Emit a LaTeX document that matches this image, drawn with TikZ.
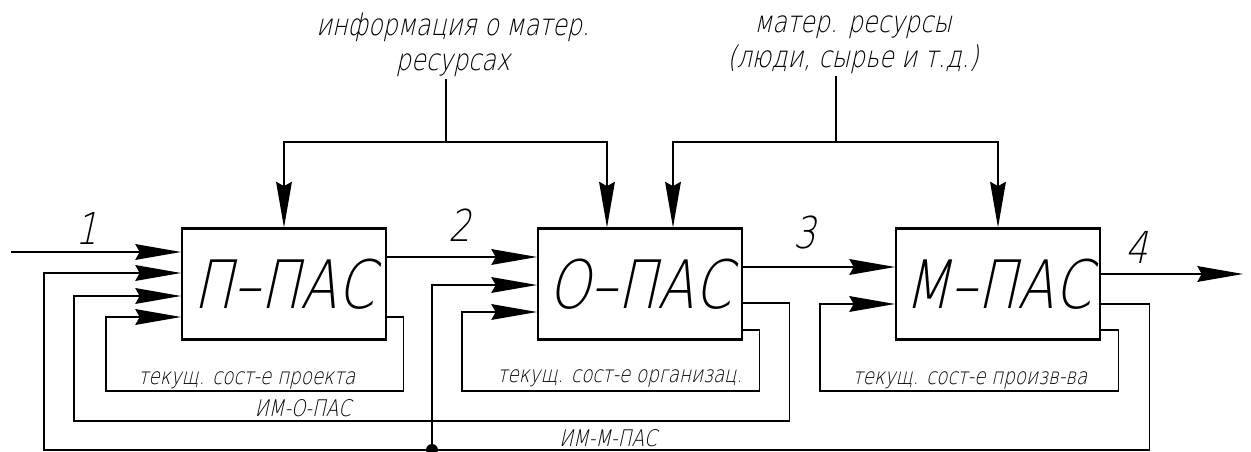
\documentclass[tikz,border=0pt]{standalone}
\usepackage{fontspec}
\newfontfamily\gost{DejaVu Sans ExtraLight}[FakeStretch=0.8,FakeSlant=0.22]
\usetikzlibrary{arrows.meta,calc,positioning}

\begin{document}
\begin{tikzpicture}[x=0.02cm,y=-0.02cm,>={Stealth[length=26pt,width=9pt,inset=2.5pt]},
  pas/.style={draw,line width=1.2pt,minimum width=4.08cm,minimum height=2.22cm,inner sep=0pt,font=\gost\fontsize{38}{40}\selectfont},
  arr/.style={->,line width=0.6pt},
  lnk/.style={line width=0.6pt},
  lbl/.style={font=\gost\fontsize{13}{15}\selectfont,inner sep=1pt},
  num/.style={font=\gost\fontsize{25}{27}\selectfont},
  toplbl/.style={align=center,font=\gost\fontsize{17}{20}\selectfont,inner sep=1pt}]
\useasboundingbox (0,0) rectangle (1251,452);
\node[pas] (ppas) at (284,284) {П–ПАС};
\node[pas] (opas) at (640,284) {О–ПАС};
\node[pas] (mpas) at (998,284) {М–ПАС};
\node[toplbl] (info) at (453,45) {информация о матер.\\ресурсах};
\node[toplbl] (res) at (853,45) {матер. ресурсы\\(люди, сырье и т.д.)};
% resource feeds
\coordinate (ij) at (446,142);
\coordinate (rj) at (836,142);
\draw[lnk] (ij |- info.south) -- (ij);
\draw[arr] (ij) -| (ppas.north);
\draw[arr] (ij) -| ($(opas.north)+(-33,0)$);
\draw[lnk] (rj |- res.south) -- (rj);
\draw[arr] (rj) -| ($(opas.north)+(33,0)$);
\draw[arr] (rj) -| (mpas.north);
% main flow
\coordinate (in1) at (11,252);
\coordinate (out4) at (1243,274);
\draw[arr] (in1) -- (in1 -| ppas.west);
\draw[arr] ($(ppas.east)+(0,-27)$) -- ($(opas.west)+(0,-27)$);
\draw[arr] ($(opas.east)+(0,-17)$) -- ($(mpas.west)+(0,-17)$);
\draw[arr] ($(mpas.east)+(0,-10)$) -- (out4);
% feedback loops
\draw[arr] ($(ppas.east)+(0,33)$) -- ++(16,0) |- (106,391) |- ($(ppas.west)+(0,33)$);
\draw[arr] ($(opas.east)+(0,46)$) -- ++(16,0) |- (462,391) |- ($(opas.west)+(0,28)$);
\draw[arr] ($(mpas.east)+(0,46)$) -- ++(17,0) |- (820,391) |- ($(mpas.west)+(0,20)$);
\draw[arr] ($(opas.east)+(0,19)$) -- ++(46,0) |- (74,421) |- ($(ppas.west)+(0,12)$);
\draw[arr] ($(mpas.east)+(0,20)$) -- ++(48,0) |- (44,450) |- ($(ppas.west)+(0,-11)$);
\coordinate (dot) at (432,450);
\fill (dot) circle[radius=3.4pt];
\draw[arr] (dot) |- ($(opas.west)+(0,1)$);
% labels
\node[lbl] (tp) at (247,380) {текущ. сост-е проекта};
\node[lbl] (to) at (620,378) {текущ. сост-е организац.};
\node[lbl] (tm) at (970,380) {текущ. сост-е произв-ва};
\node[lbl] (imo) at (303,408) {ИМ-О-ПАС};
\node[lbl] (imm) at (608,438) {ИМ-М-ПАС};
\node[num] (n1) at (87,228) {1};
\node[num] (n2) at (460,225) {2};
\node[num] (n3) at (805,233) {3};
\node[num] (n4) at (1137,247) {4};
\end{tikzpicture}
\end{document}
